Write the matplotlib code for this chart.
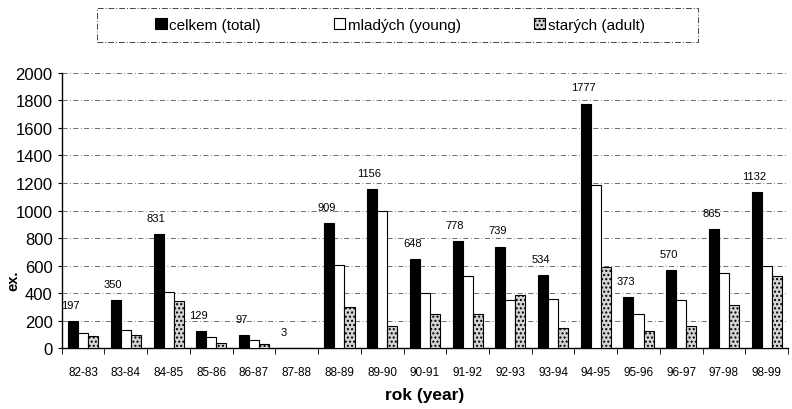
import numpy as np
import matplotlib
matplotlib.use("Agg")
import matplotlib.pyplot as plt
from matplotlib.patches import Rectangle

plt.rcParams['font.family'] = ['Liberation Sans', 'DejaVu Sans']

years = ["82-83", "83-84", "84-85", "85-86", "86-87", "87-88", "88-89", "89-90", "90-91",
         "91-92", "92-93", "93-94", "94-95", "95-96", "96-97", "97-98", "98-99"]
total = [197, 350, 831, 129, 97, 3, 909, 1156, 648, 778, 739, 534, 1777, 373, 570, 865, 1132]
young = [114, 136, 412, 80, 58, 0, 603, 1000, 400, 523, 349, 358, 1184, 247, 349, 550, 596]
adult = [87, 99, 344, 36, 34, 0, 303, 160, 247, 247, 390, 145, 593, 123, 160, 312, 525]

fig = plt.figure(figsize=(7.92, 4.10), dpi=100)
ax = fig.add_axes([0.078, 0.148, 0.917, 0.672])

x = np.arange(len(years))
w = 0.235
b1 = ax.bar(x - w, total, w, color='black', edgecolor='black', linewidth=0.8,
            label='celkem (total)', zorder=3)
b2 = ax.bar(x, young, w, color='white', edgecolor='black', linewidth=0.8,
            label='mladých (young)', zorder=3)
b3 = ax.bar(x + w, adult, w, color='#d4d4d4', edgecolor='black', linewidth=0.8,
            hatch='....', label='starých (adult)', zorder=3)

# value labels over the total bars
for xi, v in zip(x, total):
    ax.text(xi - w - 0.06, v + 80, str(v), ha='center', va='bottom', fontsize=8)

ax.set_xlim(-0.5, len(years) - 0.5)
ax.set_ylim(0, 2000)
ax.set_yticks(np.arange(0, 2001, 200))
ax.set_xticks(x)
ax.set_xticklabels(years, fontsize=8.5)
ax.set_xticks(np.arange(-0.5, len(years), 1), minor=True)
ax.tick_params(axis='x', which='major', length=0, pad=13)
ax.tick_params(axis='x', which='minor', length=4, direction='out')
ax.tick_params(axis='y', labelsize=12, length=3, direction='out')

ax.yaxis.grid(True, color='#555555', linestyle=(0, (6, 3, 1, 3)), linewidth=0.6, zorder=0)
for s in ['top', 'right']:
    ax.spines[s].set_visible(False)
ax.spines['left'].set_linewidth(1.0)
ax.spines['bottom'].set_linewidth(1.0)

ax.set_ylabel('ex.', fontsize=10.5, fontweight='bold')
ax.yaxis.set_label_coords(-0.057, 0.25)
ax.set_xlabel('rok (year)', fontsize=12.5, fontweight='bold', labelpad=6)

leg = fig.legend(handles=[b1, b2, b3], loc='center', bbox_to_anchor=(0.505, 0.937),
                 ncol=3, fontsize=11, frameon=False, columnspacing=4.8,
                 handlelength=0.75, handleheight=0.75, handletextpad=0.15)

# dashed frame around the legend
fig.patches.append(Rectangle((97 / 792, 1 - 43 / 410), 601 / 792, 34 / 410,
                             transform=fig.transFigure, fill=False, edgecolor='#444444',
                             linewidth=0.7, linestyle=(0, (6, 2, 1, 2))))

plt.savefig("out.png", dpi=100)
